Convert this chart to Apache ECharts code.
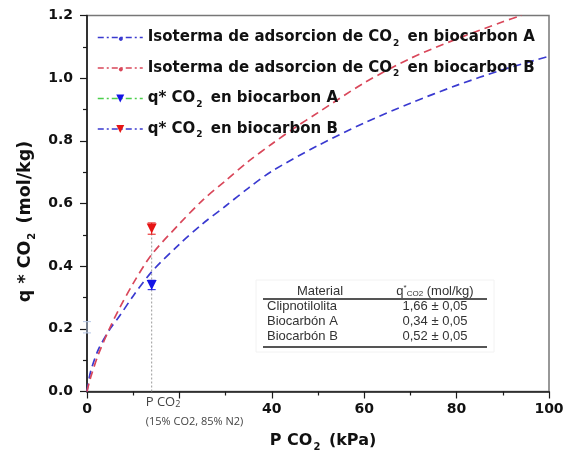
<!DOCTYPE html>
<html><head><meta charset="utf-8">
<script src="https://cdn.jsdelivr.net/npm/echarts@6/dist/echarts.min.js"></script>
<style>html,body{margin:0;padding:0;background:#fff}#c{width:568px;height:453px}</style>
</head><body><div id="c"></div>
<script>
// ---- data ----
const pressureA = [0, 0.5, 1, 2.5, 5, 7, 10, 14, 20, 25, 30, 35, 40, 50, 60, 70, 80, 90, 100];
const qIsoA     = [0, 0.045, 0.075, 0.135, 0.2, 0.24, 0.305, 0.382, 0.47, 0.535, 0.592, 0.65, 0.703, 0.785, 0.857, 0.92, 0.977, 1.027, 1.07];
const pressureB = [0, 0.5, 1, 2.5, 5, 7, 10, 14, 20, 25, 30, 35, 40, 45, 50, 60, 70, 80, 90, 94];
const qIsoB     = [0, 0.03, 0.055, 0.12, 0.205, 0.265, 0.345, 0.437, 0.535, 0.61, 0.673, 0.735, 0.79, 0.842, 0.89, 0.985, 1.063, 1.125, 1.18, 1.2];
const pointPressure = [14];
const qPointA = [0.34];
const errPointA = [0.015];
const qPointB = [0.52];
const errPointB = [0.018];
const clinoPressure = [0];
const clinoQ = [0.205];
const clinoErr = [0.018];
const seriesNames = [
  'Isoterma de adsorcion de CO2 en biocarbon A',
  'Isoterma de adsorcion de CO2 en biocarbon B',
  'q* CO2 en biocarbon A',
  'q* CO2 en biocarbon B'
];
const xTickLabels = ['0', '', '40', '60', '80', '100'];
const yTickLabels = ['0.0', '0.2', '0.4', '0.6', '0.8', '1.0', '1.2'];
const tableHeader = ['Material', 'q*CO2 (mol/kg)'];
const tableMaterials = ['Clipnotilolita', 'Biocarbón A', 'Biocarbón B'];
const tableValues = ['1,66 ± 0,05', '0,34 ± 0,05', '0,52 ± 0,05'];
const annotation = ['P CO2', '(15% CO2, 85% N2)'];

// ---- chart ----
const BOLD = 'DejaVu Sans';
const chart = echarts.init(document.getElementById('c'), null, {renderer: 'canvas'});
const blue = '#3a3ad0', red = '#d9475a';
// small dot legend symbol (extra move points enlarge the box so the dot stays small)
const smallDot = 'path://M0 0M20 20M15 10A5 5 0 1 1 14.99 9.99Z';

function errRender(color) {
  return function (params, api) {
    const x = api.value(0), y = api.value(1), e = api.value(2);
    const t = api.coord([x, y + e]), b = api.coord([x, y - e]);
    const w = 4, st = {stroke: color, lineWidth: 1};
    return {type: 'group', children: [
      {type: 'line', shape: {x1: t[0], y1: t[1], x2: b[0], y2: b[1]}, style: st},
      {type: 'line', shape: {x1: t[0] - w, y1: t[1], x2: t[0] + w, y2: t[1]}, style: st},
      {type: 'line', shape: {x1: b[0] - w, y1: b[1], x2: b[0] + w, y2: b[1]}, style: st}
    ]};
  };
}

function legendFmt(name) {
  const p = name.split('CO2');
  return '{b|' + p[0] + 'CO}{s|2}{b|' + p[1] + '}';
}

const axisCommon = {
  axisLine: {lineStyle: {color: '#1a1a1a', width: 1.6}},
  axisTick: {inside: false, length: 7, lineStyle: {color: '#1a1a1a', width: 1.2}},
  minorTick: {show: true, splitNumber: 2, length: 4, lineStyle: {color: '#1a1a1a', width: 1.2}},
  splitLine: {show: false}
};

chart.setOption({
  animation: false,
  backgroundColor: '#fff',
  grid: {left: 87, right: 19, top: 15.5, bottom: 61.5, show: true, borderColor: '#777', borderWidth: 1.5,
    containLabel: false, outerBoundsMode: 'none'},
  legend: {
    orient: 'vertical', left: 97, top: 27, padding: 0, itemWidth: 45, itemHeight: 10, itemGap: 9.5,
    selectedMode: false,
    formatter: legendFmt,
    textStyle: {rich: {
      b: {fontFamily: BOLD, fontWeight: 'bold', fontSize: 15, color: '#111', lineHeight: 20},
      s: {fontFamily: BOLD, fontWeight: 'bold', fontSize: 9, color: '#111', padding: [12, 3, 0, 1], lineHeight: 20}
    }},
    data: [
      {name: seriesNames[0], lineStyle: {type: [6, 3, 2, 3], color: blue, width: 1.5}},
      {name: seriesNames[1], lineStyle: {type: [6, 3, 2, 3], color: red, width: 1.5}},
      {name: seriesNames[2], lineStyle: {type: [6, 3, 2, 3], color: '#4ccf4c', width: 1.5}},
      {name: seriesNames[3], lineStyle: {type: [6, 3, 2, 3], color: blue, width: 1.5}}
    ]
  },
  xAxis: Object.assign({
    type: 'value', min: 0, max: 100, interval: 20,
    name: '{b|P CO}{s|2}{b| (kPa)}', nameLocation: 'middle', nameGap: 38,
    nameTextStyle: {padding: [0, 0, 0, 10], rich: {
      b: {fontFamily: BOLD, fontWeight: 'bold', fontSize: 16, color: '#111', lineHeight: 22},
      s: {fontFamily: BOLD, fontWeight: 'bold', fontSize: 10, color: '#111', padding: [14, 3, 0, 1], lineHeight: 22}
    }},
    axisLabel: {margin: 11, fontFamily: BOLD, fontWeight: 'bold', fontSize: 14, color: '#111',
      formatter: (v, i) => xTickLabels[i]}
  }, axisCommon),
  yAxis: Object.assign({
    type: 'value', min: 0, max: 1.2, interval: 0.2,
    name: '{b|q * CO}{s|2}{b| (mol/kg)}', nameLocation: 'middle', nameGap: 51, nameRotate: 90,
    nameTextStyle: {padding: [0, 36, 0, 0], rich: {
      b: {fontFamily: BOLD, fontWeight: 'bold', fontSize: 17.5, color: '#111', lineHeight: 22},
      s: {fontFamily: BOLD, fontWeight: 'bold', fontSize: 10, color: '#111', padding: [14, 3, 0, 1], lineHeight: 22}
    }},
    axisLabel: {margin: 14, fontFamily: BOLD, fontWeight: 'bold', fontSize: 14, color: '#111',
      formatter: (v, i) => yTickLabels[i]}
  }, axisCommon),
  series: [
    {
      name: seriesNames[0], type: 'line', smooth: 0.3, showSymbol: false, symbol: smallDot,
      itemStyle: {color: blue}, lineStyle: {color: blue, width: 1.7, type: [8, 5]},
      data: pressureA.map((x, i) => [x, qIsoA[i]]), z: 3
    },
    {
      name: seriesNames[1], type: 'line', smooth: 0.3, showSymbol: false, symbol: smallDot,
      itemStyle: {color: red}, lineStyle: {color: red, width: 1.7, type: [8, 5]},
      data: pressureB.map((x, i) => [x, qIsoB[i]]), z: 3
    },
    {
      name: 'guide', type: 'line', symbol: 'none', silent: true,
      lineStyle: {color: '#9a9a9a', width: 1, type: [2, 2]},
      data: [[pointPressure[0], 0], [pointPressure[0], qPointB[0]]], z: 2
    },
    {
      name: seriesNames[2], type: 'line', symbol: 'triangle', symbolRotate: 180, symbolSize: 10,
      itemStyle: {color: '#1414e6'}, lineStyle: {color: '#4ccf4c'},
      data: pointPressure.map((x, i) => [x, qPointA[i]]), z: 5
    },
    {
      name: seriesNames[3], type: 'line', symbol: 'triangle', symbolRotate: 180, symbolSize: 10,
      itemStyle: {color: '#e61414'}, lineStyle: {color: blue},
      data: pointPressure.map((x, i) => [x, qPointB[i]]), z: 5
    },
    {
      name: 'errA', type: 'custom', renderItem: errRender('#1414e6'), silent: true, z: 4,
      data: pointPressure.map((x, i) => [x, qPointA[i], errPointA[i]])
    },
    {
      name: 'errB', type: 'custom', renderItem: errRender('#e61414'), silent: true, z: 4,
      data: pointPressure.map((x, i) => [x, qPointB[i], errPointB[i]])
    },
    {
      name: 'errC', type: 'custom', renderItem: errRender('#b7c8e6'), silent: true, z: 4,
      data: clinoPressure.map((x, i) => [x, clinoQ[i], clinoErr[i]])
    }
  ]
});

// ---- inset table and annotation ----
const tFont = '"Liberation Sans", Arial, sans-serif';
const tColor = '#333';
const rowsY = [306, 321, 336];
const tableEls = [
  {type: 'rect', shape: {x: 256, y: 280, width: 238, height: 72}, style: {fill: '#fff', stroke: '#f2f2f2'}, z: 10},
  {type: 'text', x: 320, y: 291, z: 11, style: {text: tableHeader[0], font: '13px ' + tFont, fill: tColor, align: 'center', verticalAlign: 'middle'}},
  {type: 'text', x: 435, y: 291, z: 11, style: {
    text: '{n|q}{sup|*}{sub|CO2}{n| (mol/kg)}', align: 'center', verticalAlign: 'middle',
    rich: {
      n: {font: '13px ' + tFont, fill: tColor, lineHeight: 16},
      sup: {font: '8px ' + tFont, fill: tColor, padding: [0, 0, 6, 0], lineHeight: 16},
      sub: {font: '8px ' + tFont, fill: tColor, padding: [6, 0, 0, 0], lineHeight: 16}
    }}},
  {type: 'line', z: 11, shape: {x1: 263, y1: 299, x2: 487, y2: 299}, style: {stroke: '#555', lineWidth: 2}},
  {type: 'line', z: 11, shape: {x1: 263, y1: 347, x2: 487, y2: 347}, style: {stroke: '#555', lineWidth: 2}}
];
tableMaterials.forEach((m, i) => {
  tableEls.push({type: 'text', x: 267, y: rowsY[i], z: 11, style: {text: m, font: '13px ' + tFont, fill: tColor, align: 'left', verticalAlign: 'middle'}});
  tableEls.push({type: 'text', x: 435, y: rowsY[i], z: 11, style: {text: tableValues[i], font: '13px ' + tFont, fill: tColor, align: 'center', verticalAlign: 'middle'}});
});
const px = chart.convertToPixel({gridIndex: 0}, [pointPressure[0], 0]);
tableEls.push({type: 'text', x: px[0] - 6, y: px[1] + 11, z: 11, style: {
  text: '{n|P CO}{s|2}', align: 'left', verticalAlign: 'middle',
  rich: {
    n: {font: '13px "Open Sans", sans-serif', fill: '#444', lineHeight: 16},
    s: {font: '9px "Open Sans", sans-serif', fill: '#444', padding: [4, 0, 0, 0], lineHeight: 16}
  }}});
tableEls.push({type: 'text', x: px[0] - 6, y: px[1] + 30, z: 11, style: {
  text: annotation[1], font: '11px "Open Sans", sans-serif', fill: '#444', align: 'left', verticalAlign: 'middle'}});
chart.setOption({graphic: {elements: tableEls}});
</script></body></html>
